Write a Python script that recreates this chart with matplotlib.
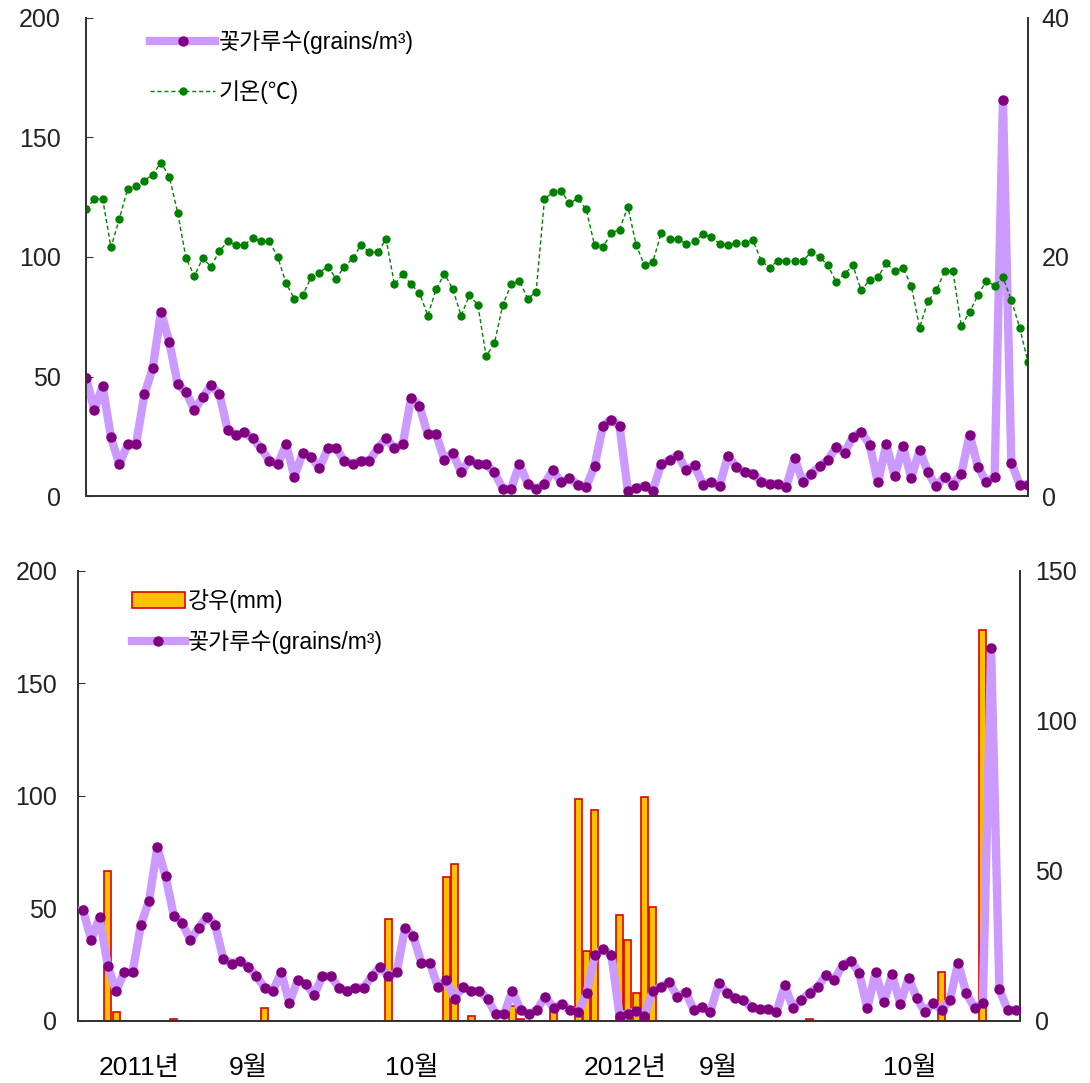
import numpy as np
import matplotlib
matplotlib.use('Agg')
import matplotlib.pyplot as plt
from matplotlib.patches import Patch
from matplotlib.lines import Line2D

plt.rcParams['font.family'] = ['Liberation Sans', 'Noto Sans CJK KR', 'DejaVu Sans']

# Daily values, 2011 then 2012 (index order as plotted)
pollen = [
    49.5, 36.0, 46.0, 24.5, 13.3, 21.6, 21.6, 42.5, 53.4, 77.1,
    64.3, 46.7, 43.6, 36.0, 41.3, 46.3, 42.7, 27.6, 25.5, 26.6,
    24.1, 19.9, 14.8, 13.3, 21.6, 8.1, 18.1, 16.4, 11.6, 19.9,
    19.9, 14.8, 13.3, 14.8, 14.8, 19.9, 24.1, 19.9, 21.6, 41.1,
    37.7, 25.8, 25.8, 15.1, 18.1, 9.9, 15.1, 13.3, 13.3, 9.9,
    3.0, 3.0, 13.3, 5.0, 3.0, 5.0, 10.8, 5.7, 7.4, 4.8,
    3.8, 12.5, 29.2, 32.0, 29.3, 2.3, 3.3, 4.2, 2.3, 13.4,
    15.1, 17.2, 10.8, 12.8, 4.8, 6.0, 4.0, 16.8, 12.3, 10.0,
    9.3, 6.0, 5.1, 5.1, 3.9, 15.8, 5.8, 9.3, 12.5, 15.0,
    20.6, 18.1, 24.8, 26.8, 21.5, 5.7, 21.6, 8.2, 20.8, 7.6,
    19.2, 10.0, 4.0, 8.1, 4.8, 9.3, 25.7, 12.3, 5.8, 8.0,
    165.7, 14.0, 4.8, 4.8]

temp = [
    24.0, 24.85, 24.85, 20.8, 23.2, 25.7, 25.9, 26.4, 26.9, 27.9,
    26.7, 23.7, 19.9, 18.4, 19.9, 19.2, 20.5, 21.3, 21.0, 21.0,
    21.6, 21.3, 21.3, 20.0, 17.8, 16.5, 16.8, 18.3, 18.7, 19.2,
    18.2, 19.2, 19.9, 21.0, 20.4, 20.4, 21.5, 17.7, 18.6, 17.7,
    17.0, 15.1, 17.3, 18.6, 17.3, 15.1, 16.8, 16.0, 11.7, 12.8,
    16.0, 17.7, 18.0, 16.5, 17.1, 24.85, 25.4, 25.5, 24.5, 24.9,
    24.0, 21.0, 20.8, 22.0, 22.3, 24.2, 21.0, 19.3, 19.6, 22.0,
    21.5, 21.5, 21.1, 21.3, 21.9, 21.7, 21.1, 21.0, 21.2, 21.2,
    21.4, 19.7, 19.1, 19.7, 19.7, 19.7, 19.7, 20.4, 20.0, 19.3,
    17.9, 18.6, 19.3, 17.2, 18.1, 18.3, 19.5, 18.8, 19.1, 17.6,
    14.1, 16.3, 17.2, 18.8, 18.8, 14.2, 15.4, 16.8, 18.0, 17.6,
    18.3, 16.4, 14.1, 11.2]

rain = [
    0, 0, 0, 50, 3, 0, 0, 0, 0, 0,
    0, 0.5, 0, 0, 0, 0, 0, 0, 0, 0,
    0, 0, 4.2, 0, 0, 0, 0, 0, 0, 0,
    0, 0, 0, 0, 0, 0, 0, 34, 0, 0,
    0, 0, 0, 0, 48, 52.3, 0, 1.7, 0, 0,
    0, 0, 5, 0.5, 0, 0, 0, 4, 0, 0,
    74, 23.3, 70.3, 0, 0, 35.3, 27, 9.2, 74.6, 37.9,
    0, 0, 0, 0, 0, 0, 0, 0, 0, 0,
    0, 0, 0, 0, 0, 0, 0, 0, 0.5, 0,
    0, 0, 0, 0, 0, 0, 0, 0, 0, 0,
    0, 0, 0, 0, 16.2, 0, 0, 0, 0, 130.3,
    0, 0, 0, 0]

date_pos = [6.8, 20, 39.8, 65.7, 77, 100.2]
date_labels = ['2011년', '9월', '10월', '2012년', '9월', '10월']

x = np.arange(len(pollen))

P_LINE = '#CC99FF'
P_DOT = '#800080'
GREEN = '#008000'

fig = plt.figure(figsize=(10.9, 10.83), dpi=100)

# ---- top panel: pollen + temperature
ax1 = fig.add_axes([0.0789, 0.542, 0.8642, 0.4414])
ax1.plot(x, pollen, color=P_LINE, lw=6, marker='o', ms=6.5,
         mfc=P_DOT, mec=P_DOT, zorder=3)
ax1.set_xlim(0, len(x) - 1)
ax1.set_ylim(0, 200)
ax1.set_yticks([0, 50, 100, 150, 200])
ax1.set_xticks([])
ax1t = ax1.twinx()
ax1t.plot(x, temp, color=GREEN, lw=1, ls=(0, (3, 2)), marker='o', ms=5,
          mfc=GREEN, mec=GREEN)
ax1t.set_ylim(0, 40)
ax1t.set_yticks([0, 20, 40])

# ---- bottom panel: rainfall bars + pollen
ax2 = fig.add_axes([0.0716, 0.0573, 0.8642, 0.4155])
ax2t = ax2.twinx()
ax2t.bar(x, rain, width=0.85, color='#FFC000', edgecolor='#E00000', lw=1.2)
ax2t.set_ylim(0, 150)
ax2t.set_yticks([0, 50, 100, 150])
ax2.plot(x, pollen, color=P_LINE, lw=6, marker='o', ms=6.5,
         mfc=P_DOT, mec=P_DOT, zorder=3)
ax2.set_zorder(ax2t.get_zorder() + 1)
ax2.patch.set_visible(False)
ax2.set_xlim(-0.6, len(x) - 0.5)
ax2.set_ylim(0, 200)
ax2.set_yticks([0, 50, 100, 150, 200])
ax2.set_xticks(date_pos)
ax2.set_xticklabels(date_labels, fontsize=19)
ax2.tick_params(axis='x', length=0, pad=25, labelcolor='black')

for a in (ax1, ax1t, ax2, ax2t):
    a.spines['top'].set_visible(False)
    for s in a.spines.values():
        s.set_linewidth(1.3)
        s.set_color('#333333')
    a.tick_params(axis='y', direction='in', length=5, labelsize=18,
                  colors='#333333', labelcolor='#222222')
ax1.tick_params(axis='y', pad=18)
ax2.tick_params(axis='y', pad=15)
ax1t.tick_params(axis='y', length=0, pad=10)
ax2t.tick_params(axis='y', length=0, pad=11)

# legends
h_pol = Line2D([], [], color=P_LINE, lw=6, marker='o', ms=6.5,
               mfc=P_DOT, mec=P_DOT)
h_tmp = Line2D([], [], color=GREEN, lw=1, ls=(0, (3, 2)), marker='o',
               ms=5, mfc=GREEN, mec=GREEN)
h_rain = Patch(facecolor='#FFC000', edgecolor='#E00000', lw=1.2)
fig.legend([h_pol, h_tmp], ['꽃가루수(grains/m³)', '기온(℃)'],
           loc='upper left', bbox_to_anchor=(0.1376, 0.972), frameon=False,
           fontsize=16.5, handlelength=2.85, labelspacing=1.15,
           handletextpad=0.15, borderpad=0, borderaxespad=0)
fig.legend([h_rain, h_pol], ['강우(mm)', '꽃가루수(grains/m³)'],
           loc='upper left', bbox_to_anchor=(0.121, 0.456), frameon=False,
           fontsize=16.5, handlelength=2.3, labelspacing=0.75,
           handletextpad=0.15, borderpad=0, borderaxespad=0)

fig.savefig('out.png', dpi=100)
